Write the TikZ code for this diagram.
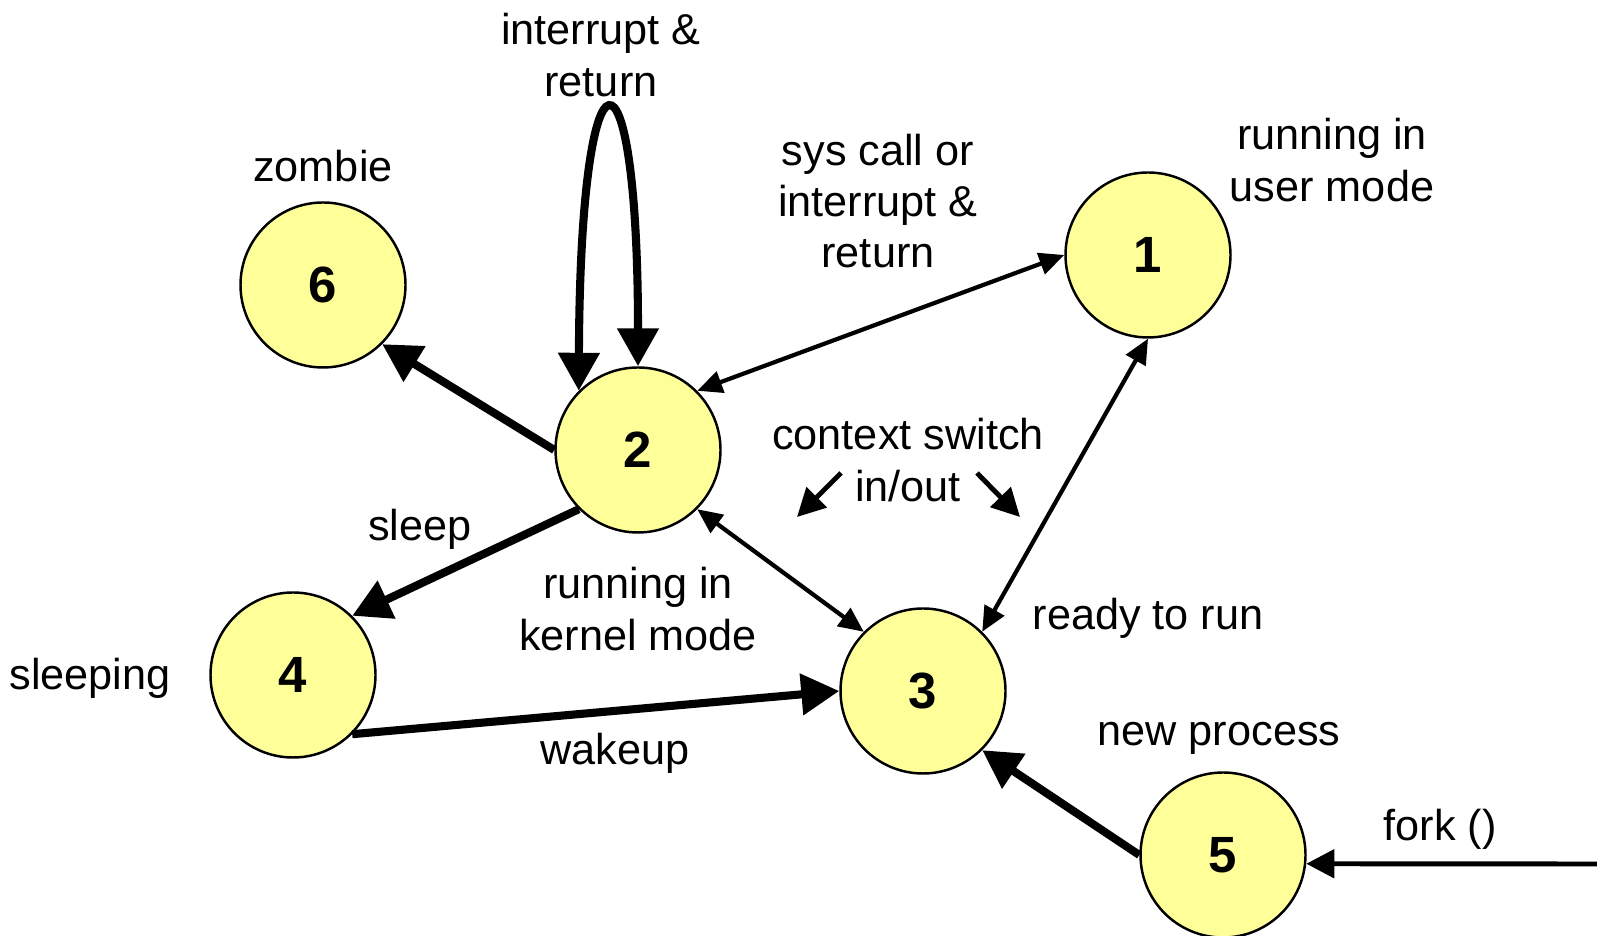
\documentclass[tikz,border=0pt]{standalone}
\usepackage{fontspec}
\setmainfont{Liberation Sans}
\usetikzlibrary{arrows.meta}
\definecolor{statefill}{HTML}{FFFF99}
\begin{document}
\begin{tikzpicture}[x=1cm,y=1cm,
	state node/.style={circle,draw,line width=0.7pt,fill=statefill,minimum size=1.65cm,inner sep=0pt,font=\fontsize{14.5}{16}\selectfont\bfseries},
	text node/.style={align=center,inner sep=0pt,font=\fontsize{12.3}{14.6}\selectfont},
	big/.style={line width=2.3pt,-{Triangle[length=0.38cm,width=0.4cm]}},
	bigboth/.style={line width=2.3pt,{Triangle[length=0.38cm,width=0.4cm]}-{Triangle[length=0.38cm,width=0.4cm]}},
	both/.style={line width=1.2pt,{Triangle[length=0.25cm,width=0.22cm]}-{Triangle[length=0.25cm,width=0.22cm]}},
	small/.style={line width=1.4pt,-{Triangle[length=0.28cm,width=0.28cm]}}]
	\useasboundingbox (0,0) rectangle (15.97,9.36);

	\node[state node] at (11.48, 6.81) (n1) {1};
	\node[state node] at (6.38, 4.86) (n2) {2};
	\node[state node] at (9.23, 2.45) (n3) {3};
	\node[state node] at (2.93, 2.61) (n4) {4};
	\node[state node] at (12.23, 0.81) (n5) {5};
	\node[state node] at (3.23, 6.51) (n6) {6};

	\node[text node] at (6.01, 8.81) (lintr) {interrupt \&\\return};
	\node[text node] at (3.23, 7.70) (lzombie) {zombie};
	\node[text node] at (8.78, 7.35) (lsys) {sys call or\\interrupt \&\\return};
	\node[text node] at (13.32, 7.76) (luser) {running in\\user mode};
	\node[text node] at (9.08, 4.76) (lctx) {context switch\\in/out};
	\node[text node] at (4.20, 4.07) (lsleep) {sleep};
	\node[text node] at (6.38, 3.27) (lkernel) {running in\\kernel mode};
	\node[text node] at (11.48, 3.18) (lready) {ready to run};
	\node[text node] at (0.90, 2.58) (lsleeping) {sleeping};
	\node[text node] at (6.15, 1.83) (lwakeup) {wakeup};
	\node[text node] at (12.19, 1.98) (lnew) {new process};
	\node[text node] at (14.40, 1.07) (lfork) {fork ()};

	\coordinate (forkin) at (15.97, 0.72);
	\coordinate (ctxa) at (8.41, 4.63);
	\coordinate (ctxb) at (7.97, 4.19);
	\coordinate (ctxc) at (9.77, 4.63);
	\coordinate (ctxd) at (10.20, 4.19);

	\draw[bigboth] (n2.135) .. controls (5.80, 9.10) and (6.38, 9.10) .. (n2.90);
	\path
		(n2.west) edge[big] (n6.south east)
		(n2.south west) edge[big] (n4.north east)
		(n4.south east) edge[big] (n3.west)
		(n5.west) edge[big] (n3.south east)
		(n1.west) edge[both] (n2.north east)
		(n1.south) edge[both] (n3.north east)
		(n2.south east) edge[both] (n3.north west)
		(forkin) edge[small] (n5.-6)
		(ctxa) edge[small] (ctxb)
		(ctxc) edge[small] (ctxd)
		;
\end{tikzpicture}
\end{document}
